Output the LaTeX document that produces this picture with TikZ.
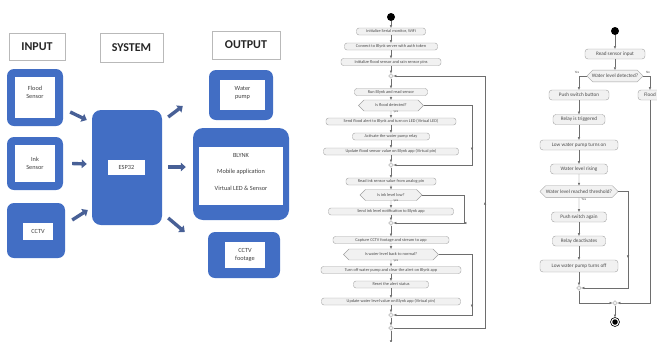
\documentclass[tikz,border=0pt]{standalone}
\usepackage{fontspec}
\setmainfont{Carlito}
\usetikzlibrary{arrows.meta,shapes.misc,shapes.geometric,calc,decorations.markings}

\definecolor{blk}{RGB}{66,110,196}
\definecolor{arr}{RGB}{72,96,150}
\definecolor{actfill}{RGB}{241,241,241}
\definecolor{actline}{RGB}{160,160,160}
\definecolor{flow}{RGB}{110,110,110}

\begin{document}
\begin{tikzpicture}[x=1pt,y=-1pt,
  header/.style={draw=gray!55, line width=0.5pt, inner sep=0pt,
    font=\bfseries\fontsize{12}{14}\selectfont, text=black!85},
  blockout/.style={fill=blk, rounded corners=7pt, inner sep=0pt},
  blockin/.style={fill=white, inner sep=0pt},
  blocktxt/.style={font=\fontsize{6.3}{8}\selectfont, align=center, text=black!75, inner sep=0pt},
  bigarrow/.style={draw=arr, line width=3.4pt, -{Triangle[length=5pt,width=8.5pt]}},
  act/.style={draw=actline, fill=actfill, rounded corners=2.5pt, line width=0.4pt,
    inner xsep=1.5pt, inner ysep=0.8pt, minimum height=7pt,
    font=\fontsize{4.3}{5}\selectfont, text=black!70},
  actdec/.style={act, chamfered rectangle, chamfered rectangle xsep=2.5pt, sharp corners, minimum height=6pt},
  ract/.style={act, minimum height=10pt, rounded corners=3pt, font=\fontsize{5.2}{6}\selectfont},
  rdec/.style={actdec, minimum height=8pt, font=\fontsize{5.2}{6}\selectfont},
  mergept/.style={diamond, draw=actline, fill=actfill, line width=0.4pt, minimum size=5pt, inner sep=0pt},
  startpt/.style={circle, fill=black, minimum size=8pt, inner sep=0pt},
  flowarrow/.style={draw=flow, line width=0.4pt, -{Triangle[length=2.6pt,width=2.2pt]}},
  midarrow/.style={postaction={decorate}, decoration={markings,
    mark=at position 0.5 with {\arrow{Triangle[length=2.6pt,width=2.2pt]}}}},
  tiny/.style={font=\fontsize{3.4}{4}\selectfont, text=black!65, inner sep=0.5pt},
]
\useasboundingbox (0,0) rectangle (657,341);
\clip (0,0) rectangle (657,341);

% ---------------- block diagram ----------------
\node[header, minimum width=56, minimum height=27] (hin)  at (37,46.5) {INPUT};
\node[header, minimum width=63, minimum height=29] (hsys) at (131.5,47.5) {SYSTEM};
\node[header, minimum width=68, minimum height=28] (hout) at (246,45) {OUTPUT};

% inputs
\node[blockout, minimum width=56, minimum height=57] (flood) at (35,97.5) {};
\node[blockin, minimum width=40, minimum height=41] (floodin) at (flood) {};
\node[blocktxt] (floodtxt) at (35,92) {Flood\\Sensor};

\node[blockout, minimum width=56, minimum height=53] (ink) at (35,163.5) {};
\node[blockin, minimum width=40, minimum height=37] (inkin) at (ink) {};
\node[blocktxt] (inktxt) at (35,163) {Ink\\Sensor};

\node[blockout, minimum width=58, minimum height=55] (cctv) at (36,230.5) {};
\node[blockin, blocktxt, minimum width=30, minimum height=17] (cctvin) at (38,231.5) {CCTV};

% controller
\node[blockout, rounded corners=9pt, minimum width=70, minimum height=115] (esp) at (127,167.5) {};
\node[blockin, blocktxt, minimum width=37, minimum height=15] (esptxt) at (126.5,167.5) {ESP32};

% outputs
\node[blockout, minimum width=64, minimum height=50] (pump) at (241,95) {};
\node[blockin, minimum width=45, minimum height=30] (pumpin) at (242.5,95) {};
\node[blocktxt] (pumptxt) at (242.5,93) {Water\\pump};

\node[blockout, rounded corners=10pt, minimum width=96, minimum height=92] (blynk) at (241,174) {};
\node[blockin, minimum width=84, minimum height=58] (blynkin) at (241,176) {};
\node[blocktxt] (blynk1) at (241,155) {BLYNK};
\node[blocktxt] (blynk2) at (241,172) {Mobile application};
\node[blocktxt] (blynk3) at (241,188) {Virtual LED \& Sensor};

\node[blockout, minimum width=72, minimum height=46] (footage) at (244,255) {};
\node[blockin, blocktxt, minimum width=40, minimum height=26] (footagein) at (245,255) {CCTV\\footage};

% data flow arrows
\draw[bigarrow] ([shift={(7,14.5)}]flood.east) -- ([shift={(-5,-47.5)}]esp.west);
\draw[bigarrow] ([shift={(9,0)}]ink.east) -- ([shift={(-5,-3.5)}]esp.west);
\draw[bigarrow] ([shift={(7,-10.5)}]cctv.east) -- ([shift={(-4,42.5)}]esp.west);
\draw[bigarrow] ([shift={(6,-50.5)}]esp.east) -- ([shift={(-26,11)}]pump.west);
\draw[bigarrow] ([shift={(6,-0.5)}]esp.east) -- ([shift={(-7,-7)}]blynk.west);
\draw[bigarrow] ([shift={(6,50.5)}]esp.east) -- ([shift={(-23,-23)}]footage.west);

% ---------------- program activity chart ----------------
\node[startpt] (pst) at (391,17) {};
\node[act, minimum width=69]  (b1)  at (391,31.5) {Initialize Serial monitor, WiFi};
\node[act, minimum width=93]  (b2)  at (391,46.5) {Connect to Blynk server with auth token};
\node[act, minimum width=100] (b3)  at (391,62)   {Initialize flood sensor and rain sensor pins};
\node[mergept] (m1) at (391,76) {};
\node[act, minimum width=73]  (b4)  at (391,92)   {Run Blynk and read sensor};
\node[actdec, minimum width=65] (d1) at (391,105.5) {Is flood detected?};
\node[act, minimum width=130] (b6)  at (391,121.5) {Send flood alert to Blynk and turn on LED (Virtual LED)};
\node[act, minimum width=77]  (b7)  at (391,136.5) {Activate the water pump relay};
\node[act, minimum width=135] (b8)  at (391,151.5) {Update flood sensor value on Blynk app (Virtual pin)};
\node[mergept] (m2) at (391,165) {};
\node[act, minimum width=90]  (b9)  at (391,181.5) {Read ink sensor value from analog pin};
\node[actdec, minimum width=62] (d2) at (391,195) {Is ink level low?};
\node[act, minimum width=125] (b11) at (391,211.5) {Send ink level notification to Blynk app};
\node[mergept] (m3) at (391,223) {};
\node[act, minimum width=116] (b12) at (391,240)  {Capture CCTV footage and stream to app};
\node[actdec, minimum width=95] (d3) at (391,254.5) {Is water level back to normal?};
\node[act, minimum width=140] (b14) at (391,270)  {Turn off water pump and clear the alert on Blynk app};
\node[act, minimum width=75]  (b15) at (391,284.5) {Reset the alert status};
\node[act, minimum width=139] (b16) at (391,301.5) {Update water level value on Blynk app (Virtual pin)};
\node[mergept] (m4) at (391,315) {};
\node[mergept] (m5) at (391,328) {};
\coordinate (pout) at (391,343);

\foreach \a/\b in {pst/b1,b1/b2,b2/b3,b3/m1,m1/b4,b4/d1,d1/b6,b6/b7,b7/b8,b8/m2,
                   m2/b9,b9/d2,d2/b11,b11/m3,m3/b12,b12/d3,d3/b14,b14/b15,b15/b16,b16/m4,m4/m5,m5/pout}
  \draw[flowarrow] (\a) -- (\b);

\node[tiny, anchor=west] (y1) at (393,112) {yes};
\node[tiny, anchor=west] (y2) at (393,201) {yes};
\node[tiny, anchor=west] (y3) at (393,260.5) {yes};

\coordinate (ca) at (472,0);
\coordinate (cb) at (464,0);
\coordinate (cc) at (485,0);
\draw[flowarrow, midarrow] (d1.east) -- (d1.east -| ca) -- (m2.east -| ca) -- (m2.east);
\draw[flowarrow, midarrow] (d2.east) -- (d2.east -| cb) -- (m3.east -| cb) -- (m3.east);
\draw[flowarrow, midarrow] (d3.east) -- (d3.east -| ca) -- (m4.east -| ca) -- (m4.east);
\draw[flowarrow, midarrow] (m5.east) -- (m5.east -| cc) -- (m1.east -| cc) -- (m1.east);

% ---------------- pump control activity chart ----------------
\node[startpt] (rst) at (615,31) {};
\node[ract, minimum width=60] (r1) at (615,54) {Read sensor input};
\node[rdec, minimum width=56] (rd1) at (615,76) {Water level detected?};
\node[ract, minimum width=60] (r2) at (579,95) {Push switch button};
\node[ract, minimum width=52] (r3) at (579,119.5) {Relay is triggered};
\node[ract, minimum width=78] (r4) at (579,145) {Low water pump turns on};
\node[ract, minimum width=57] (r5) at (579,169) {Water level rising};
\node[rdec, minimum width=78] (rd2) at (579,191.5) {Water level reached threshold?};
\node[ract, minimum width=55] (r6) at (579,217) {Push switch again};
\node[ract, minimum width=53] (r7) at (579,241) {Relay deactivates};
\node[ract, minimum width=78, minimum height=12] (r8) at (579,266) {Low water pump turns off};
\node[mergept] (rm1) at (579,288) {};
\node[ract, minimum width=24, inner xsep=0.5pt] (rn) at (650,95) {Flood};
\node[mergept] (rm2) at (615,303) {};
\node[circle, draw=black, line width=0.6pt, minimum size=9pt, inner sep=0pt] (rend) at (615,322) {};
\node[circle, fill=black, minimum size=5.5pt, inner sep=0pt] (rendin) at (rend) {};

\draw[flowarrow] (rst) -- (r1);
\draw[flowarrow] (r1) -- (rd1);
\draw[flowarrow] (rd1.west) -| (r2.north);
\draw[flowarrow] (rd1.east) -| (rn.north);
\foreach \a/\b in {r2/r3,r3/r4,r4/r5,r5/rd2,rd2/r6,r6/r7,r7/r8,r8/rm1}
  \draw[flowarrow] (\a) -- (\b);
\coordinate (cr) at (628,0);
\draw[flowarrow, midarrow] (rd2.east) -- (rd2.east -| cr) -- (rm1.east -| cr) -- (rm1.east);
\draw[flowarrow] (rm1.south) |- (rm2.west);
\draw[flowarrow] (rn.south) |- (rm2.east);
\draw[flowarrow] (rm2) -- (rend);

\node[tiny, anchor=south] (ryes) at (577,74) {Yes};
\node[tiny, anchor=south] (rno)  at (648,74) {No};
\node[tiny, anchor=west]  (ryes2) at (581,199) {Yes};
\end{tikzpicture}
\end{document}
